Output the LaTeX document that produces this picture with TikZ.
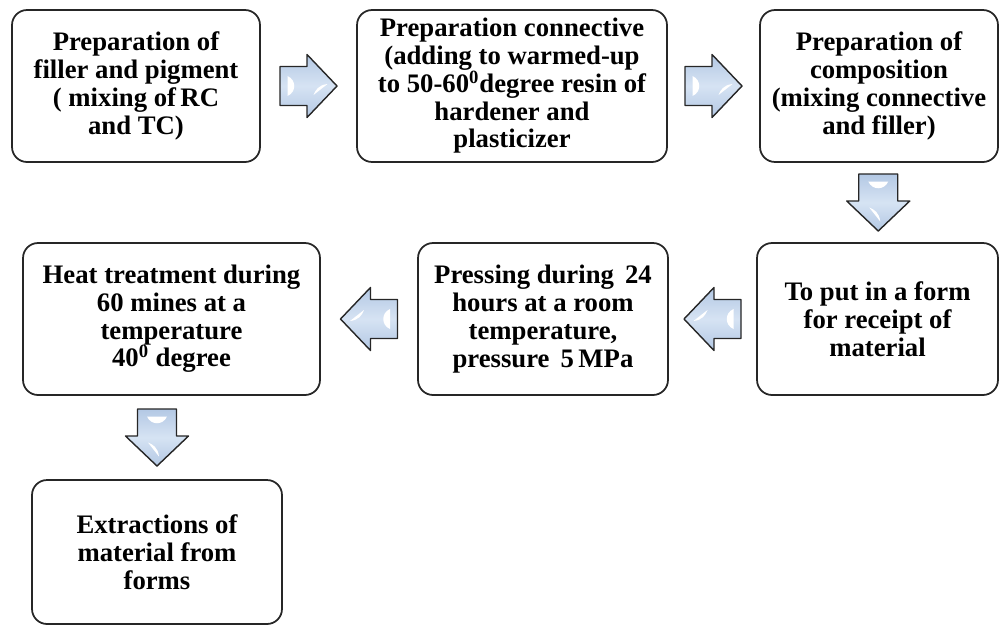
\documentclass[tikz,border=0pt]{standalone}
\usepackage{fontspec}
\setmainfont{Liberation Serif}
\usepackage{xcolor}
\usepackage{tikz}
\usetikzlibrary{arrows.meta,positioning,calc}
\definecolor{arrowfill}{HTML}{D6E3F3}
\definecolor{arrowedge}{HTML}{B3C8E4}

\tikzset{
  stepbox/.style={draw=black!85, line width=1pt, rounded corners=0.3cm,
    align=center, inner sep=2pt, minimum height=3.04cm,
    font=\fontsize{15.2}{15.8}\selectfont\bfseries},
  blockarr/.pic={
    \draw[line width=0.8pt, line join=round, draw=black!85, top color=arrowedge,
      bottom color=arrowedge, middle color=arrowfill]
      (-28.5,-19.5) -- (-1.5,-19.5) -- (-1.5,-31.5) -- (28.5,0)
      -- (-1.5,31.5) -- (-1.5,19.5) -- (-28.5,19.5) -- cycle;
    % glints
    \fill[white] (-21,-10) .. controls (-12,-6) and (-12,6) .. (-21,10) -- cycle;
    \fill[white] (19,-2) -- (5,9) .. controls (7,4) and (10,-1) .. (19,-2) -- cycle;
  }
}

\begin{document}
\begin{tikzpicture}[x=0.02cm, y=-0.02cm]
\useasboundingbox (0,0) rectangle (1000,627);
% top row
\node[stepbox, minimum width=4.96cm] (filler) at (136,86)
  {Preparation of\\filler and pigment\\( mixing of\,RC\\and TC)};
\node[stepbox, minimum width=6.2cm] (connective) at (512,86)
  {Preparation connective\\(adding to warmed-up\\to 50-60\textsuperscript{0}degree resin of\\hardener and\\plasticizer};
\node[stepbox, minimum width=4.76cm] (composition) at (879,86)
  {Preparation of\\composition\\(mixing connective\\and filler)};
% middle row
\node[stepbox, minimum width=4.82cm] (form) at (877.5,319)
  {To put in a form\\for receipt of\\material};
\node[stepbox, minimum width=5cm] (pressing) at (543,319)
  {Pressing during\, 24\\hours at a room\\temperature,\\pressure\, 5\,MPa};
\node[stepbox, minimum width=5.94cm] (heat) at (171.5,319)
  {Heat treatment during\\60 mines at a\\temperature\\40\textsuperscript{0} degree};
% bottom
\node[stepbox, minimum width=5cm, minimum height=2.88cm] (extract) at (157,552)
  {Extractions of\\material from\\forms};
% block arrows between steps
\pic at ($(filler.east)!0.5!(connective.west)$) {blockarr};
\pic at ($(connective.east)!0.5!(composition.west)$) {blockarr};
\pic[rotate=-90] at ($(composition.south)!0.5!(form.north)$) {blockarr};
\pic[rotate=180] at ($(form.west)!0.5!(pressing.east)$) {blockarr};
\pic[rotate=180] at ($(pressing.west)!0.5!(heat.east)$) {blockarr};
\pic[rotate=-90] at ($(heat.south -| extract.north)!0.5!(extract.north)$) {blockarr};
\end{tikzpicture}
\end{document}
